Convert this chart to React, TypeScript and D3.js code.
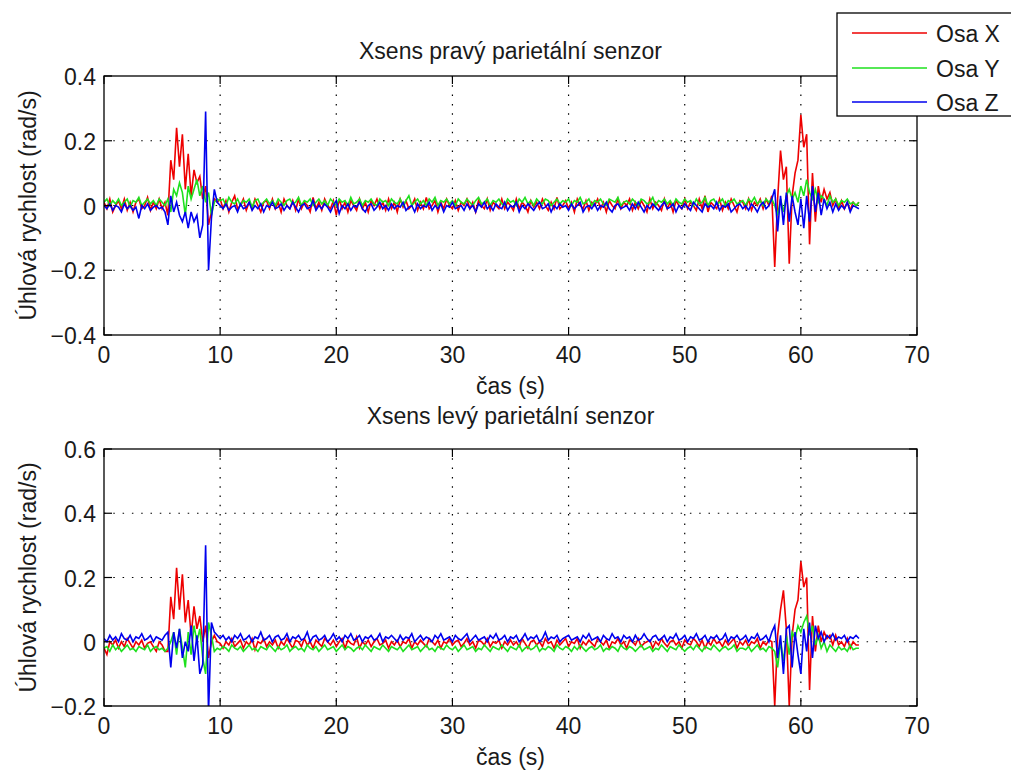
import React from "react";
import * as d3 from "d3";

// sampling grid (s)
const TIME = d3.range(0, 65.001, 0.25);

const X_TICKS = [0, 10, 20, 30, 40, 50, 60, 70];
const Y_TICKS_TOP = [-0.4, -0.2, 0, 0.2, 0.4];
const Y_TICKS_BOT = [-0.2, 0, 0.2, 0.4, 0.6];
const LEGEND = ["Osa X", "Osa Y", "Osa Z"];
const COLORS = ["#ee0000", "#1ee01e", "#0000ee"];

// Right parietal sensor
const topX = [
  0.01,-0.01,0.02,-0.02,0.00,0.015,-0.01,0.02,-0.015,0.01,-0.02,0.01,0.02,-0.01,0.00,0.025,-0.015,0.01,-0.01,0.02,
  -0.01,0.01,-0.03,0.14,0.08,0.24,0.12,0.22,0.05,0.16,0.03,0.11,0.07,0.09,0.02,0.06,-0.06,-0.02,0.02,0.01,
  0.02,-0.01,0.015,-0.02,0.01,0.03,-0.01,0.00,0.02,-0.015,0.01,-0.01,0.02,0.00,-0.02,0.01,0.015,-0.01,0.02,-0.01,
  0.01,-0.02,0.02,0.00,-0.01,0.015,-0.015,0.02,-0.01,0.01,0.00,-0.02,0.025,-0.01,0.01,-0.015,0.02,0.00,-0.01,0.015,
  -0.03,0.02,-0.01,0.01,-0.02,0.015,0.00,-0.015,0.02,-0.01,0.01,-0.02,0.015,0.00,0.02,-0.01,0.01,-0.015,0.02,-0.01,
  0.01,-0.02,0.02,-0.005,0.015,-0.01,0.00,0.02,-0.015,0.01,-0.01,0.025,-0.01,0.00,0.015,-0.02,0.01,-0.01,0.02,0.00,
  -0.01,0.015,-0.015,0.01,0.00,0.02,-0.01,0.01,-0.02,0.015,0.00,-0.01,0.02,-0.015,0.01,0.00,-0.01,0.02,-0.01,0.01,
  0.00,-0.015,0.02,-0.01,0.01,0.00,-0.02,0.015,-0.005,0.01,-0.01,0.02,0.00,-0.015,0.01,-0.01,0.025,-0.01,0.00,0.015,
  -0.01,0.01,-0.02,0.02,0.00,-0.01,0.015,-0.015,0.01,0.00,0.02,-0.01,0.01,-0.02,0.015,0.00,-0.01,0.02,-0.01,0.01,
  0.00,0.02,-0.015,0.01,-0.01,0.015,0.00,-0.02,0.02,-0.01,0.01,0.00,-0.015,0.02,-0.01,0.01,-0.02,0.015,0.00,-0.01,
  0.02,-0.01,0.01,0.00,-0.015,0.02,-0.01,0.03,-0.02,0.01,0.00,-0.01,0.02,-0.015,0.01,-0.01,0.02,0.00,-0.02,0.015,
  0.01,-0.01,0.02,-0.015,0.01,0.00,0.02,-0.01,0.02,0.00,0.03,-0.19,0.02,0.17,0.08,0.12,-0.18,0.03,0.10,0.14,
  0.28,0.18,0.22,-0.12,0.10,-0.05,0.06,0.01,0.05,0.02,0.04,0.00,0.02,-0.01,0.015,-0.01,0.01,-0.015,0.01,0.00,
  0.01,
];
const topY = [
  0.01,0.02,0.00,0.015,0.005,0.02,0.00,0.01,0.02,-0.005,0.015,0.01,0.025,0.00,0.01,0.02,0.005,0.015,0.00,0.02,
  0.01,0.00,0.02,-0.02,0.05,0.03,0.07,0.04,-0.03,0.06,0.02,0.05,0.08,0.03,0.06,0.01,0.04,-0.03,0.01,0.02,
  0.015,0.02,0.00,0.025,0.01,0.005,0.02,0.00,0.015,0.01,0.02,-0.005,0.015,0.02,0.00,0.01,0.02,0.005,0.015,0.00,
  0.02,0.01,0.00,0.015,0.02,0.005,0.01,0.025,0.00,0.015,0.01,0.02,0.00,0.01,0.02,0.005,0.015,0.00,0.02,0.01,
  0.00,0.02,0.01,0.015,0.00,0.025,0.005,0.01,0.02,0.00,0.015,0.01,0.02,0.005,0.00,0.02,0.01,0.015,0.00,0.02,
  0.01,0.005,0.02,0.00,0.015,0.03,0.00,0.01,0.02,0.005,0.015,0.00,0.02,0.01,0.025,0.00,0.015,0.01,0.02,0.005,
  0.015,0.00,0.02,0.01,0.005,0.02,0.01,0.00,0.015,0.025,0.005,0.01,0.02,0.00,0.015,0.01,0.02,0.005,0.00,0.02,
  0.01,0.015,0.00,0.02,0.01,0.025,0.005,0.015,0.00,0.02,0.01,0.005,0.02,0.015,0.00,0.01,0.02,0.005,0.015,0.01,
  0.02,0.00,0.015,0.01,0.025,0.005,0.01,0.02,0.00,0.015,0.01,0.02,0.005,0.00,0.02,0.015,0.01,0.025,0.00,0.01,
  0.015,0.005,0.02,0.01,0.00,0.02,0.015,0.005,0.01,0.025,0.00,0.015,0.01,0.02,0.005,0.015,0.00,0.02,0.01,0.005,
  0.02,0.01,0.015,0.00,0.02,0.005,0.01,0.025,0.00,0.015,0.02,0.005,0.01,0.02,0.00,0.015,0.01,0.02,0.005,0.01,
  0.015,0.00,0.02,0.01,0.025,0.005,0.015,0.00,0.02,0.01,0.02,0.00,-0.03,0.02,-0.02,0.03,0.05,0.02,0.04,0.01,
  0.06,0.03,0.08,0.04,0.02,0.05,0.01,0.03,0.02,0.00,0.03,0.01,0.02,0.00,0.015,0.01,0.02,0.005,0.01,0.00,
  0.01,
];
const topZ = [
  0.00,-0.01,0.005,-0.015,0.00,-0.005,-0.02,0.005,-0.01,0.00,-0.015,-0.005,-0.04,0.00,-0.01,0.005,-0.015,-0.005,0.00,-0.01,
  -0.005,-0.02,-0.06,0.03,-0.02,0.01,-0.03,-0.05,-0.02,-0.07,-0.02,-0.05,-0.03,-0.10,-0.06,0.29,-0.20,-0.04,0.05,0.01,
  0.00,-0.01,0.005,-0.015,-0.005,0.00,-0.02,0.005,-0.01,-0.005,0.01,-0.015,0.00,-0.01,0.005,-0.02,0.00,-0.005,0.01,-0.01,
  -0.005,0.005,-0.015,0.00,-0.01,0.01,-0.005,-0.02,0.00,0.005,-0.01,-0.005,0.015,-0.015,0.00,-0.01,0.005,-0.005,-0.02,0.00,
  0.015,-0.025,0.00,-0.01,0.005,-0.015,0.00,-0.005,0.01,-0.01,-0.02,0.00,0.005,-0.015,-0.005,0.01,-0.01,0.00,-0.015,0.005,
  -0.01,0.00,-0.005,0.01,-0.015,-0.005,0.00,-0.02,0.005,-0.01,0.00,-0.005,0.01,-0.015,0.00,-0.01,0.005,-0.02,0.00,-0.005,
  0.01,-0.01,-0.005,0.00,-0.015,0.005,-0.01,0.00,-0.02,0.005,-0.005,0.01,-0.01,0.00,-0.015,0.005,-0.005,-0.01,0.01,-0.015,
  0.00,-0.005,0.01,-0.02,0.00,-0.01,0.005,-0.005,-0.015,0.00,0.01,-0.01,-0.005,0.005,-0.02,0.00,-0.01,0.005,-0.005,0.00,
  -0.015,0.005,-0.01,0.00,0.01,-0.02,-0.005,0.00,-0.01,0.005,-0.015,0.00,-0.005,0.01,-0.01,-0.02,0.00,0.005,-0.01,-0.005,
  0.00,-0.015,0.005,-0.01,0.01,-0.005,-0.02,0.00,-0.01,0.005,-0.005,-0.015,0.00,0.01,-0.01,-0.005,0.005,-0.02,0.00,-0.01,
  0.005,-0.005,-0.015,0.01,0.00,-0.01,-0.02,0.005,-0.005,0.00,-0.01,0.01,-0.015,0.00,-0.005,0.005,-0.02,-0.01,0.00,0.005,
  -0.01,0.00,-0.015,0.005,-0.005,-0.02,0.00,0.01,-0.01,0.00,0.02,0.05,-0.08,0.03,-0.06,0.04,-0.05,0.03,-0.02,-0.06,
  0.02,-0.07,0.03,-0.05,0.06,-0.02,0.04,-0.03,0.02,-0.01,0.01,-0.02,0.005,-0.015,0.00,-0.01,0.01,-0.02,0.00,-0.005,
  -0.01,
];

// Left parietal sensor
const botX = [
  -0.02,-0.04,0.00,-0.01,0.005,-0.02,0.00,-0.015,0.01,-0.005,-0.02,0.00,-0.01,0.005,-0.02,-0.005,0.00,-0.015,-0.03,0.00,
  -0.01,-0.03,-0.03,0.14,0.07,0.23,0.10,0.21,0.06,0.13,0.02,0.11,0.04,0.08,0.00,0.05,-0.05,0.00,0.02,0.00,
  -0.005,-0.02,0.00,-0.01,0.01,-0.015,-0.005,0.005,-0.02,0.00,-0.01,0.01,-0.025,0.00,-0.005,0.01,-0.015,0.00,-0.01,0.005,
  -0.02,0.00,-0.01,0.01,-0.005,-0.02,0.005,0.00,-0.015,0.01,-0.01,0.00,-0.02,0.005,-0.005,-0.015,0.01,0.00,-0.01,0.005,
  -0.015,0.00,0.01,-0.02,0.005,-0.005,-0.01,0.015,-0.02,0.00,-0.01,0.005,-0.015,0.00,0.01,-0.01,-0.005,0.005,-0.02,0.00,
  -0.01,0.005,-0.015,0.00,-0.005,0.01,-0.02,0.00,-0.01,0.005,-0.005,-0.015,0.01,0.00,-0.01,0.005,-0.02,0.00,-0.005,0.01,
  -0.01,0.00,0.005,-0.015,-0.005,0.01,-0.01,0.00,-0.02,0.005,0.00,-0.01,0.01,-0.015,0.00,-0.005,0.005,-0.02,0.00,-0.01,
  0.005,-0.01,0.00,-0.015,0.01,-0.005,-0.02,0.00,0.005,-0.01,0.00,-0.015,0.01,-0.005,0.00,-0.02,0.005,-0.01,0.00,0.01,
  -0.015,0.00,-0.005,0.01,-0.02,0.00,-0.01,0.005,-0.005,-0.015,0.01,0.00,-0.01,0.005,-0.02,0.00,-0.005,0.01,-0.01,0.00,
  -0.02,0.005,0.00,-0.01,0.01,-0.015,-0.005,0.00,0.005,-0.02,0.00,-0.01,0.01,-0.005,-0.015,0.00,0.005,-0.01,0.00,-0.02,
  0.005,-0.005,-0.01,0.01,0.00,-0.015,0.005,-0.02,0.00,-0.01,0.01,-0.005,0.00,-0.015,0.005,-0.01,0.00,0.01,-0.02,0.00,
  -0.01,0.005,-0.015,0.00,-0.005,0.01,-0.02,0.00,-0.01,0.005,0.00,-0.20,0.02,0.10,0.16,0.04,-0.20,0.02,0.10,0.13,
  0.25,0.17,0.20,-0.15,0.08,-0.03,0.05,0.00,0.03,0.01,0.02,-0.01,0.02,-0.01,0.00,-0.015,0.01,-0.02,0.00,-0.01,
  -0.01,
];
const botY = [
  -0.02,-0.015,-0.03,-0.01,-0.025,-0.015,-0.03,-0.02,-0.01,-0.025,-0.02,-0.03,-0.015,-0.02,-0.025,-0.01,-0.03,-0.02,-0.015,-0.025,
  -0.02,-0.03,-0.02,0.00,0.03,-0.04,0.04,-0.02,-0.08,0.03,-0.04,0.05,0.00,0.04,-0.05,-0.10,0.06,0.02,-0.03,-0.02,
  -0.025,-0.015,-0.02,-0.03,-0.01,-0.02,-0.025,-0.015,-0.03,-0.02,-0.01,-0.025,-0.02,-0.03,-0.015,-0.02,-0.025,-0.01,-0.02,-0.03,
  -0.015,-0.025,-0.02,-0.01,-0.03,-0.02,-0.015,-0.025,-0.02,-0.03,-0.01,-0.02,-0.025,-0.015,-0.03,-0.02,-0.01,-0.025,-0.02,-0.015,
  -0.03,-0.02,-0.01,-0.025,-0.015,-0.02,-0.03,-0.02,-0.015,-0.025,-0.01,-0.02,-0.03,-0.015,-0.02,-0.025,-0.01,-0.02,-0.03,-0.015,
  -0.02,-0.025,-0.015,-0.03,-0.02,-0.01,-0.025,-0.02,-0.015,-0.03,-0.02,-0.01,-0.025,-0.02,-0.03,-0.015,-0.02,-0.025,-0.01,-0.02,
  -0.025,-0.015,-0.03,-0.02,-0.01,-0.025,-0.02,-0.015,-0.03,-0.02,-0.025,-0.01,-0.02,-0.03,-0.015,-0.02,-0.025,-0.01,-0.02,-0.03,
  -0.015,-0.02,-0.025,-0.01,-0.03,-0.02,-0.015,-0.025,-0.02,-0.01,-0.03,-0.02,-0.025,-0.015,-0.02,-0.03,-0.01,-0.02,-0.025,-0.015,
  -0.02,-0.03,-0.015,-0.025,-0.01,-0.02,-0.03,-0.02,-0.015,-0.025,-0.02,-0.01,-0.03,-0.02,-0.025,-0.015,-0.02,-0.03,-0.01,-0.02,
  -0.025,-0.015,-0.02,-0.03,-0.02,-0.01,-0.025,-0.02,-0.015,-0.03,-0.02,-0.025,-0.01,-0.02,-0.03,-0.015,-0.02,-0.025,-0.01,-0.02,
  -0.03,-0.02,-0.015,-0.025,-0.01,-0.02,-0.03,-0.015,-0.02,-0.025,-0.01,-0.02,-0.03,-0.02,-0.015,-0.025,-0.02,-0.01,-0.03,-0.02,
  -0.02,-0.025,-0.015,-0.03,-0.02,-0.01,-0.025,-0.02,-0.03,-0.015,-0.02,-0.03,-0.08,0.00,-0.06,0.02,-0.04,0.03,0.01,0.05,
  0.03,0.06,0.08,0.02,0.05,-0.01,0.02,-0.02,0.00,-0.03,-0.01,-0.02,-0.03,-0.015,-0.025,-0.02,-0.03,-0.01,-0.025,-0.02,
  -0.02,
];
const botZ = [
  0.01,0.00,0.02,0.005,0.015,0.00,0.025,0.01,0.005,0.02,0.00,0.015,0.01,0.025,0.005,0.01,0.02,0.00,0.015,0.01,
  0.005,0.02,0.03,-0.08,0.03,-0.02,0.04,-0.05,0.00,-0.03,0.05,-0.06,0.02,-0.10,-0.07,0.30,-0.22,0.06,0.03,0.02,
  0.01,0.02,0.005,0.015,0.00,0.02,0.01,0.025,0.005,0.01,0.02,0.00,0.015,0.01,0.03,0.005,0.01,0.02,0.00,0.015,
  0.02,0.005,0.01,0.025,0.00,0.015,0.01,0.02,0.005,0.01,0.03,0.00,0.015,0.02,0.005,0.01,0.02,0.00,0.01,0.025,
  0.005,0.015,0.00,0.02,0.01,0.025,0.005,0.01,0.02,0.00,0.015,0.01,0.02,0.005,0.01,0.025,0.00,0.015,0.01,0.02,
  0.01,0.00,0.02,0.005,0.015,0.01,0.025,0.00,0.01,0.02,0.005,0.015,0.01,0.00,0.02,0.01,0.025,0.005,0.01,0.015,
  0.00,0.02,0.01,0.005,0.015,0.025,0.00,0.01,0.02,0.005,0.01,0.015,0.00,0.02,0.01,0.025,0.005,0.01,0.02,0.00,
  0.015,0.01,0.02,0.00,0.01,0.025,0.005,0.015,0.01,0.02,0.00,0.01,0.03,0.005,0.015,0.01,0.02,0.00,0.01,0.015,
  0.02,0.005,0.01,0.015,0.00,0.02,0.01,0.025,0.005,0.01,0.015,0.00,0.02,0.01,0.005,0.025,0.01,0.015,0.00,0.02,
  0.01,0.015,0.00,0.02,0.005,0.01,0.025,0.01,0.00,0.015,0.02,0.005,0.01,0.02,0.00,0.015,0.01,0.025,0.005,0.01,
  0.02,0.00,0.015,0.01,0.025,0.005,0.01,0.02,0.00,0.015,0.01,0.02,0.005,0.01,0.025,0.00,0.015,0.01,0.02,0.005,
  0.01,0.02,0.00,0.015,0.01,0.025,0.005,0.01,0.02,0.00,0.03,0.05,-0.05,0.02,-0.10,0.04,0.05,-0.08,0.03,-0.04,
  -0.10,0.04,-0.03,0.06,-0.05,0.05,0.01,0.03,0.00,0.02,0.01,0.025,0.005,0.015,0.01,0.02,0.00,0.015,0.01,0.02,
  0.01,
];

const FONT = "'Liberation Sans', Arial, sans-serif";
const FS = 23;
const TEXT_FILL = "#1a1a1a";

type PanelProps = {
  id: string;
  top: number;
  bottom: number;
  domain: [number, number];
  yTicks: number[];
  series: number[][];
  title: string;
  titleY: number;
  xlabelY: number;
};

const LEFT = 104;
const RIGHT = 917;

function Panel({ id, top, bottom, domain, yTicks, series, title, titleY, xlabelY }: PanelProps) {
  const x = d3.scaleLinear().domain([0, 70]).range([LEFT, RIGHT]);
  const y = d3.scaleLinear().domain(domain).range([bottom, top]);
  const line = d3
    .line<number>()
    .x((_, i) => x(TIME[i]))
    .y((v) => y(v));
  const tickLen = 8;
  const cx = (LEFT + RIGHT) / 2;
  return (
    <g>
      <defs>
        <clipPath id={id}>
          <rect x={LEFT} y={top} width={RIGHT - LEFT} height={bottom - top} />
        </clipPath>
      </defs>
      <rect x={LEFT} y={top} width={RIGHT - LEFT} height={bottom - top} fill="#fff" />
      {X_TICKS.filter((t) => t > 0 && t < 70).map((t) => (
        <line key={"gx" + t} x1={x(t)} x2={x(t)} y1={top} y2={bottom} stroke="#000" strokeWidth={1.2} strokeDasharray="1.5 7.8" />
      ))}
      {yTicks.filter((t) => t > domain[0] && t < domain[1]).map((t) => (
        <line key={"gy" + t} x1={LEFT} x2={RIGHT} y1={y(t)} y2={y(t)} stroke="#000" strokeWidth={1.2} strokeDasharray="1.5 7.8" />
      ))}
      <g clipPath={`url(#${id})`}>
        {series.map((s, k) => (
          <path key={k} d={line(s) || ""} fill="none" stroke={COLORS[k]} strokeWidth={1.6} strokeLinejoin="miter" />
        ))}
      </g>
      <rect x={LEFT} y={top} width={RIGHT - LEFT} height={bottom - top} fill="none" stroke="#000" strokeWidth={1.3} />
      {X_TICKS.map((t) => (
        <g key={"tx" + t}>
          <line x1={x(t)} x2={x(t)} y1={bottom} y2={bottom - tickLen} stroke="#000" strokeWidth={1.2} />
          <line x1={x(t)} x2={x(t)} y1={top} y2={top + tickLen} stroke="#000" strokeWidth={1.2} />
          <text x={x(t)} y={bottom + 28} textAnchor="middle" fontSize={FS} fontFamily={FONT} fill={TEXT_FILL}>
            {t}
          </text>
        </g>
      ))}
      {yTicks.map((t) => (
        <g key={"ty" + t}>
          <line x1={LEFT} x2={LEFT + tickLen} y1={y(t)} y2={y(t)} stroke="#000" strokeWidth={1.2} />
          <line x1={RIGHT} x2={RIGHT - tickLen} y1={y(t)} y2={y(t)} stroke="#000" strokeWidth={1.2} />
          <text x={96} y={y(t) + 9} textAnchor="end" fontSize={FS} fontFamily={FONT} fill={TEXT_FILL}>
            {d3.format("")(+t.toFixed(1))}
          </text>
        </g>
      ))}
      <text x={cx} y={titleY} textAnchor="middle" fontSize={FS} fontFamily={FONT} fill={TEXT_FILL}>
        {title}
      </text>
      <text x={cx} y={xlabelY} textAnchor="middle" fontSize={FS} fontFamily={FONT} fill={TEXT_FILL}>
        čas (s)
      </text>
      <text
        transform={`translate(36,${(top + bottom) / 2}) rotate(-90)`}
        textAnchor="middle"
        fontSize={FS}
        fontFamily={FONT}
        fill={TEXT_FILL}
      >
        Úhlová rychlost (rad/s)
      </text>
    </g>
  );
}

export default function App() {
  const legendRows = [33, 68, 102];
  return (
    <svg
      width={1011}
      height={773}
      style={{ position: "absolute", left: 0, top: 0, background: "#fff", display: "block" }}
    >
      <rect width={1011} height={773} fill="#fff" />
      <Panel
        id="clipTop"
        top={76}
        bottom={335}
        domain={[-0.4, 0.4]}
        yTicks={Y_TICKS_TOP}
        series={[topX, topY, topZ]}
        title="Xsens pravý parietální senzor"
        titleY={59}
        xlabelY={394}
      />
      <Panel
        id="clipBot"
        top={449}
        bottom={706}
        domain={[-0.2, 0.6]}
        yTicks={Y_TICKS_BOT}
        series={[botX, botY, botZ]}
        title="Xsens levý parietální senzor"
        titleY={424}
        xlabelY={765}
      />
      <g>
        <rect x={837} y={13} width={190} height={103} fill="#fff" stroke="#000" strokeWidth={1.3} />
        {LEGEND.map((name, i) => (
          <g key={name}>
            <line x1={852} x2={927} y1={legendRows[i]} y2={legendRows[i]} stroke={COLORS[i]} strokeWidth={1.3} />
            <text x={936} y={legendRows[i] + 8.5} fontSize={FS} fontFamily={FONT} fill={TEXT_FILL}>
              {name}
            </text>
          </g>
        ))}
      </g>
    </svg>
  );
}
